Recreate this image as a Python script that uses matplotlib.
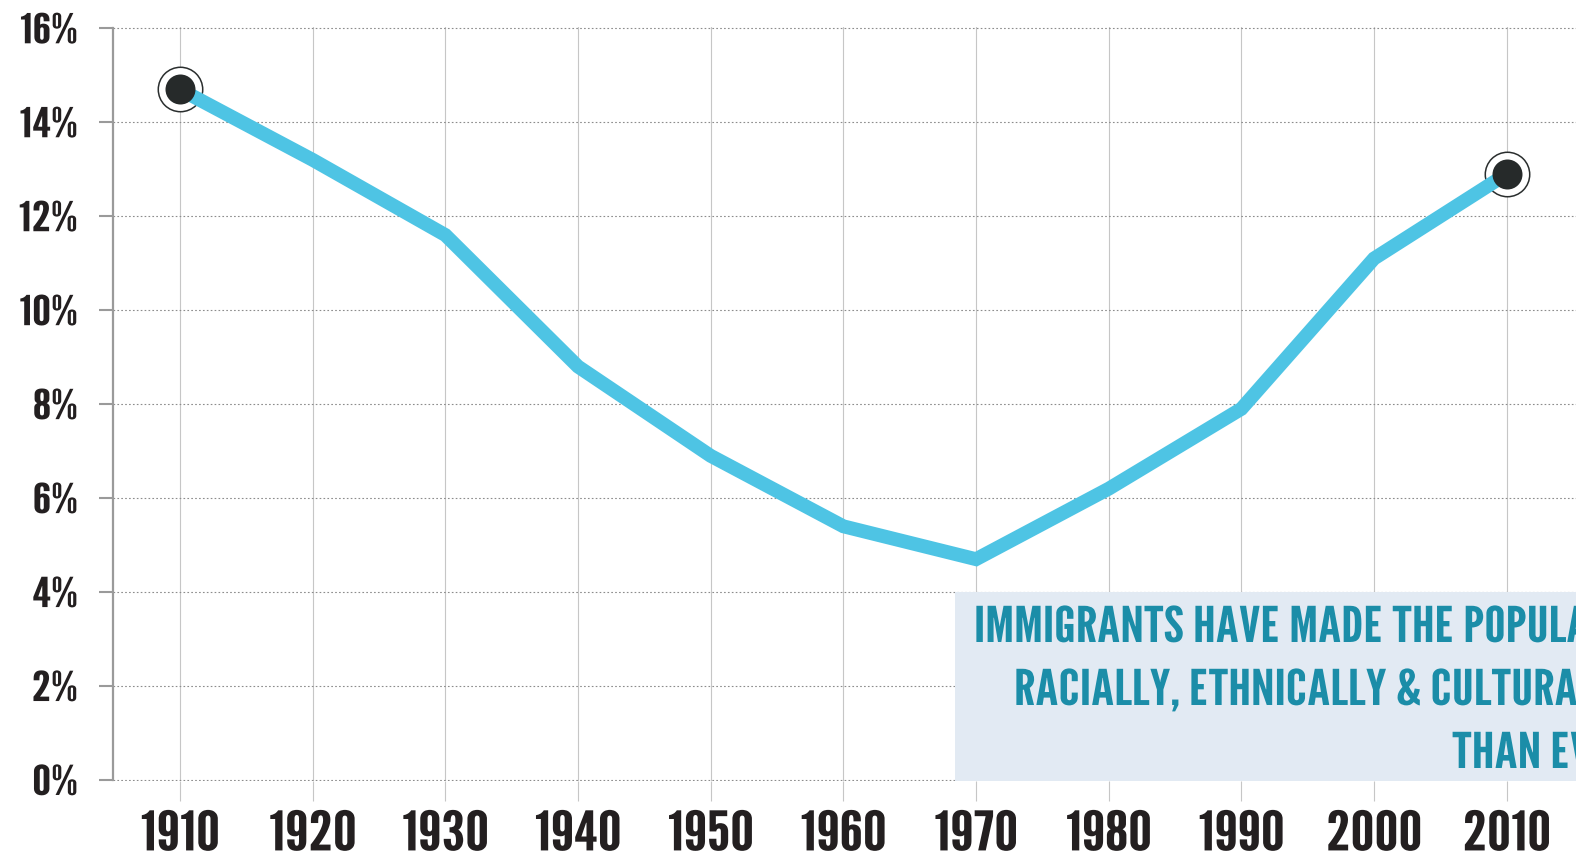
import matplotlib
matplotlib.use("Agg")
import matplotlib.pyplot as plt
from matplotlib import font_manager as fm
from matplotlib.textpath import TextPath
from matplotlib.patheffects import AbstractPathEffect
from matplotlib.transforms import Affine2D
from matplotlib.patches import Rectangle

# ---------------- data ----------------
years = [1910, 1920, 1930, 1940, 1950, 1960, 1970, 1980, 1990, 2000, 2010]
foreign_born_pct = [14.7, 13.2, 11.6, 8.8, 6.9, 5.4, 4.7, 6.2, 7.9, 11.1, 12.9]
highlight_years = [1910, 2010]
highlight_pct = [14.7, 12.9]
x_tick_labels = ["1910", "1920", "1930", "1940", "1950", "1960",
                 "1970", "1980", "1990", "2000", "2010"]
y_ticks = [0, 2, 4, 6, 8, 10, 12, 14, 16]
y_tick_labels = ["0%", "2%", "4%", "6%", "8%", "10%", "12%", "14%", "16%"]
callout_lines = ["IMMIGRANTS HAVE MADE THE POPULATION MORE",
                 "RACIALLY, ETHNICALLY & CULTURALLY DIVERSE",
                 "THAN EVER BEFORE"]

# ---------------- fonts ----------------
def font_ok(name):
    try:
        fm.findfont(fm.FontProperties(family=name, weight="bold"),
                    fallback_to_default=False)
        return True
    except Exception:
        return False

FAMILY = "DejaVu Sans"
for cand in ["League Gothic", "Oswald", "Bebas Neue", "Roboto Condensed",
             "Liberation Sans Narrow", "Liberation Sans", "DejaVu Sans"]:
    if font_ok(cand):
        FAMILY = cand
        break


class Squeeze(AbstractPathEffect):
    """Horizontally scale glyphs so the type matches the reference's condensed face."""
    def __init__(self, sx, anchor="center"):
        super().__init__()
        self.sx = sx
        self.anchor = anchor

    def draw_path(self, renderer, gc, tpath, affine, rgbFace=None):
        ext = tpath.get_extents()
        if self.anchor == "center":
            cx = (ext.x0 + ext.x1) / 2
        elif self.anchor == "right":
            cx = ext.x1
        else:
            cx = 0.0
        a = Affine2D().translate(-cx, 0).scale(self.sx, 1).translate(cx, 0) + affine
        renderer.draw_path(gc, tpath, a, rgbFace)


def fit(s, w_px, h_px, h_ref=None):
    prop = fm.FontProperties(family=FAMILY, weight="bold")
    href = h_ref if h_ref is not None else s
    ext_h = TextPath((0, 0), href, size=100, prop=prop).get_extents()
    ext = TextPath((0, 0), s, size=100, prop=prop).get_extents()
    size_px = 100 * h_px / ext_h.height
    sq = w_px / (ext.width * size_px / 100)
    return size_px * 0.72, sq


# ---------------- layout ----------------
W, H = 1576, 860
px_1910, px_2010 = 180.0, 1506.7
px_y0, px_y16 = 780.0, 28.3
ax_left_px = 113.0
ppx = (px_2010 - px_1910) / 100.0
ppy = (px_y0 - px_y16) / 16.0
xmin = 1910 - (px_1910 - ax_left_px) / ppx
xmax = 1910 + (W - px_1910) / ppx
ymin, ymax = -0.03, 16.03
bottom_px = px_y0 + (0 - ymin) * ppy
top_px = px_y16 - (ymax - 16) * ppy

fig = plt.figure(figsize=(W / 100, H / 100), dpi=100, facecolor="white")
ax = fig.add_axes([ax_left_px / W, 1 - bottom_px / H,
                   1 - ax_left_px / W, (bottom_px - top_px) / H])
ax.set_xlim(xmin, xmax)
ax.set_ylim(ymin, ymax)
ax.set_facecolor("white")

for s in ["top", "right", "bottom"]:
    ax.spines[s].set_visible(False)
ax.spines["left"].set_bounds(0, 16)
ax.spines["left"].set_color("#9a9a9a")
ax.spines["left"].set_linewidth(1.6)

ax.set_axisbelow(True)
ax.grid(axis="y", color="#8c8c8c", linewidth=0.8, linestyle=(0, (1.5, 2)))
ax.grid(axis="x", color="#c6c6c6", linewidth=0.8, linestyle="-")

ax.set_xticks(years, x_tick_labels)
ax.set_yticks(y_ticks, y_tick_labels)
ax.tick_params(axis="y", length=10, width=1.5, color="#9a9a9a", pad=15.5)
ax.tick_params(axis="x", length=14.4, width=0.8, color="#c6c6c6", pad=6.5)

xs, xsq = fit("1910", 76, 41)
ys, ysq = fit("8%", 42, 31)
for lbl in ax.get_xticklabels():
    lbl.set_fontfamily(FAMILY)
    lbl.set_fontweight("bold")
    lbl.set_fontsize(xs)
    lbl.set_color("#231f20")
    lbl.set_path_effects([Squeeze(xsq, "center")])
for lbl in ax.get_yticklabels():
    lbl.set_fontfamily(FAMILY)
    lbl.set_fontweight("bold")
    lbl.set_fontsize(ys)
    lbl.set_color("#231f20")
    lbl.set_path_effects([Squeeze(ysq, "right")])

# ---------------- marks ----------------
ax.plot(highlight_years, highlight_pct, "o", ms=32, mfc="white",
        mec="#2a2e2e", mew=1.1, zorder=2, clip_on=False)
ax.plot(years, foreign_born_pct, color="#4ec4e4", lw=10,
        solid_joinstyle="miter", solid_capstyle="butt", zorder=3)
ax.plot(highlight_years, highlight_pct, "o", ms=21.6, mfc="#262a2a",
        mec="none", zorder=4, clip_on=False)

# ---------------- callout box ----------------
box_x = 1910 + (955 - px_1910) / ppx
ax.add_patch(Rectangle((box_x, -0.04), xmax - box_x + 1, 4.04,
                       facecolor="#e2eaf3", edgecolor="none", zorder=6))

bs, bsq = fit("IMMIGRANTS HAVE MADE THE POPULA", 612, 37, h_ref="IMMIGRANTS")
line_x_px = [974, 1014, 1452]
line_base_px = [642, 705, 768]
for txt, lx, lb in zip(callout_lines, line_x_px, line_base_px):
    fig.text(lx / W, 1 - lb / H, txt, ha="left", va="baseline",
             family=FAMILY, fontweight="bold", fontsize=bs, color="#1b8da8",
             path_effects=[Squeeze(bsq, "left")], zorder=7)

fig.savefig("out.png", dpi=100, facecolor="white")
